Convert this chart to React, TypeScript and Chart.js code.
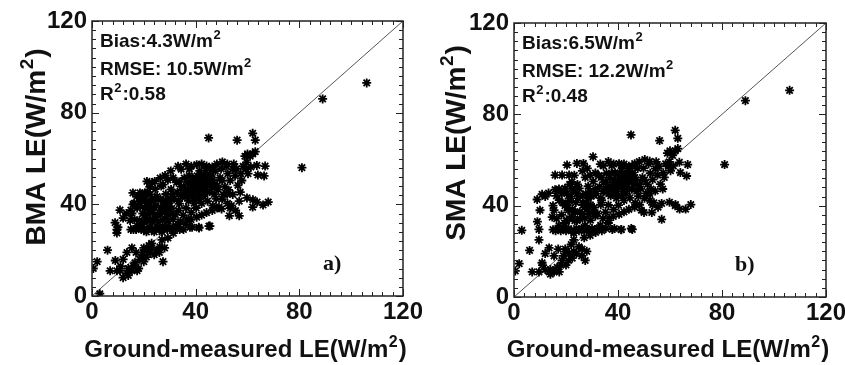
import React, { useEffect, useRef } from "react";
import { Chart, registerables } from "chart.js";

Chart.register(...registerables);

// Ground-measured LE (x), shared by both panels
const groundLE: number[] = [
  106, 89, 81, 45, 56, 62, 63, 59, 60, 61,
  62, 63, 63.6, 66.8, 64, 66.4, 56.8, 59.8, 62.1, 63.7,
  66, 68, 62, 56.8, 53, 45.5, 41.3, 37.8, 49, 50,
  0.5, 2, 3, 6, 7, 9.6, 10.8, 9, 12, 13.5,
  15.4, 12, 13.5, 15.4, 17.4, 16.6, 18.5, 19.7, 21.2, 22.4,
  25, 26.2, 27, 27.4, 29.3, 8.9, 9.6, 9.6, 10.8, 15,
  15.8, 15.4, 14.7, 15.8, 18.5, 20.4, 21.2, 11, 14, 16,
  18, 19, 20, 21, 22, 23, 24, 14, 17, 20,
  23, 26, 28, 15, 16, 17, 18, 19, 20, 21,
  22, 23, 24, 25, 26, 27, 28, 29, 30, 31,
  32.4, 33.8, 35.3, 38.6, 41.2, 45.1, 18.3, 19.6, 20.8, 21.4,
  22.3, 21.7, 23.5, 22.9, 24.2, 23.8, 25.4, 24.7, 25.1, 26.3,
  26.7, 27.2, 27.6, 28.3, 27.9, 28.5, 29.4, 28.8, 29.2, 30.3,
  29.7, 30.5, 31.3, 30.8, 32.2, 31.7, 32.6, 33.4, 32.9, 34.2,
  33.7, 34.5, 35.2, 34.8, 35.6, 36.3, 35.8, 36.6, 37.2, 36.9,
  37.6, 38.3, 37.9, 38.7, 39.4, 38.9, 40.2, 39.7, 40.5, 41.3,
  40.8, 41.6, 42.3, 41.9, 42.6, 42.2, 43.4, 42.8, 43.1, 44.3,
  43.8, 44.6, 45.3, 44.9, 45.6, 46.3, 45.8, 46.6, 47.2, 46.8,
  47.6, 48.3, 47.9, 49.4, 48.7, 50.2, 49.8, 51.3, 50.7, 52.4,
  51.8, 53.3, 52.7, 54.4, 53.8, 55.2, 54.7, 56.3, 55.8, 57.4,
  58.3, 57.8, 59.4, 60.2, 59.7, 61.3, 19.6, 21.4, 22.3, 23.2,
  24.4, 26.3, 27.4, 28.2, 29.3, 30.4, 31.3, 33.2, 34.4, 36.3,
  38.3, 40.4, 42.3, 44.2, 46.4, 48.2, 50.3, 52.2, 16.3, 17.4,
  17.3, 18.4, 19.2, 18.7, 20.3, 21.2, 22.4, 20.2, 19.4, 17.3,
  16.4, 36.3, 38.2, 40.4, 42.3, 44.2, 46.4, 48.3, 50.2, 52.3,
  53.3, 55.4, 52.2, 54.3, 57.2, 24.2, 26.7, 13.3, 12, 10,
  31.4, 33.3, 37.3, 39.2, 40.3, 41.4, 43.3, 44.4, 45.3, 39.4,
  36.4, 34.3, 33.4, 31.2, 29.4, 27.3, 26.4, 24.3, 23.4, 25.3,
  27.3, 22.4, 21.3, 20.4, 38.5, 39.5, 40.6, 41.5, 42.5, 43.6,
  44.5, 45.5, 46.5, 47.5, 36.5, 37.5, 39.2, 41.8, 43.9, 33.6,
  35.4, 30.6, 28.6, 26.5,
];

// BMA LE (y, panel a)
const bmaLE: number[] = [
  93, 86, 56, 69, 68, 71, 68, 61, 62, 61,
  62, 63, 57, 56.7, 52.8, 52.4, 41.4, 42.8, 42, 41,
  39.7, 41, 38.8, 35, 35, 30.5, 29.7, 30, 38.8, 38,
  12, 15, 1, 20, 11, 11, 11, 15.5, 16, 19,
  21, 8, 10, 11, 11, 14.5, 16, 19, 20, 19,
  20, 21.5, 24.5, 15, 25.3, 32, 29, 27.5, 37.5, 37.5,
  40, 36, 33, 45, 45, 45, 50, 13, 12, 13,
  12, 17, 21, 17, 22, 21, 18, 9, 19, 15,
  23, 19, 21, 29, 29, 29, 30, 29, 29, 28,
  30, 29, 28, 30, 29, 28, 30, 29, 30, 29,
  30, 29, 29, 30, 30, 30.5, 33, 36, 35, 38,
  33.5, 40.2, 36.4, 41.6, 34.3, 38.7, 32.2, 39.5, 43.4, 35.6,
  37.4, 33.2, 41.3, 36.6, 39.2, 44.5, 32.7, 34.5, 42.6, 35.8,
  40.5, 46.5, 33.4, 38.3, 35.5, 42.4, 49.6, 37.3, 45.2, 32.5,
  40.3, 47.6, 35.3, 43.4, 51.5, 38.4, 46.3, 33.3, 41.5, 49.5,
  55.5, 36.4, 44.3, 48.4, 40.5, 51.6, 38.4, 45.3, 50.5, 42.3,
  47.3, 54.6, 40.4, 44.5, 49.3, 52.4, 46.4, 50.3, 43.6, 48.4,
  52.6, 41.4, 45.5, 50.3, 55.6, 47.4, 52.3, 39.4, 44.3, 49.6,
  54.5, 48.3, 42.4, 51.6, 46.4, 50.3, 55.4, 47.6, 44.3, 53.4,
  56.6, 50.4, 46.3, 55.3, 39.5, 52.4, 57.6, 48.3, 55.5, 53.4,
  56.6, 50.4, 55.3, 53.4, 58.3, 56.3, 43.6, 45.4, 47.6, 49.5,
  46.6, 51.5, 48.6, 52.6, 50.6, 54.6, 51.6, 56.6, 55.3, 57.6,
  56.6, 57.3, 57.6, 56.7, 56.3, 57.6, 58.5, 57.6, 40.4, 38.4,
  43.4, 41.3, 44.4, 39.4, 42.3, 40.6, 44.3, 32.4, 31.3, 30.6,
  33.4, 31.4, 33.3, 34.4, 35.3, 36.4, 37.3, 38.4, 42.3, 40.4,
  38.4, 37.3, 44.4, 44.3, 45.3, 50, 48, 36, 34, 30,
  27.4, 31.3, 46.4, 47.3, 48.4, 50.4, 48.3, 45.4, 48.3, 44.4,
  43.4, 44.3, 41.4, 44.4, 38.3, 37.4, 42.3, 42.4, 32.3, 35.4,
  30.4, 36.3, 33.4, 38.3, 49.2, 46.2, 52.4, 45.6, 47.8, 51.6,
  49.8, 52.8, 50.6, 47.8, 44.8, 52.6, 42.6, 45.2, 54.8, 49.8,
  47.4, 42.2, 40.8, 38.6,
];

// SMA LE (y, panel b)
const smaLE: number[] = [
  90.5, 86, 58, 71, 68.5, 73, 69.5, 63, 64, 62,
  64, 65, 59, 58, 54.5, 53, 41, 41.5, 40.5, 38.5,
  38.5, 40.5, 40, 34, 37, 29.6, 29.6, 29.6, 38, 37,
  11.4, 14.6, 29.2, 20.4, 11, 11, 15, 33, 19, 21.5,
  18, 12, 11, 11, 11, 13, 16, 21, 19, 17,
  22, 21, 26, 16, 27, 42.7, 29.6, 25, 45, 40,
  47, 38, 35, 53.4, 53.4, 57.8, 53.4, 14, 12, 12,
  14, 18, 20, 16, 23, 20, 19, 10, 21, 14,
  25, 18, 20, 29.5, 29, 30, 29, 30, 29, 30,
  29, 28, 30, 29, 30, 29, 30, 29, 30, 29,
  30, 29, 30, 30, 29.5, 30, 36, 40, 38, 42,
  35.2, 44.1, 37.3, 46.6, 33.5, 41.4, 34.2, 43.3, 47.6, 36.4,
  40.3, 34.5, 45.2, 38.4, 41.2, 48.5, 33.6, 36.3, 46.2, 37.5,
  44.3, 50.6, 35.4, 39.2, 36.5, 45.3, 53.2, 40.4, 48.3, 34.4,
  42.4, 50.3, 37.2, 46.4, 54.2, 40.3, 48.4, 34.5, 44.3, 52.2,
  57.6, 38.3, 46.4, 50.3, 43.3, 54.4, 40.2, 48.3, 52.4, 44.4,
  49.3, 56.4, 42.3, 47.2, 51.4, 53.3, 49.4, 52.2, 45.3, 50.4,
  54.3, 43.4, 47.3, 51.4, 57.2, 49.3, 53.4, 41.2, 46.3, 51.3,
  56.3, 49.4, 44.2, 52.3, 47.4, 51.2, 56.4, 49.3, 45.4, 54.2,
  58.3, 51.4, 47.3, 56.2, 41.3, 53.4, 59.2, 49.4, 57.3, 54.4,
  58.3, 52.4, 57.3, 55.3, 59.2, 57.4, 47.6, 49.3, 50.4, 53.3,
  49.3, 55.2, 52.4, 56.3, 53.3, 61.4, 54.3, 58.2, 57.4, 59.3,
  58.3, 58.4, 58.2, 57.3, 58.4, 59.3, 60.2, 59.4, 44.3, 42.4,
  47.3, 45.4, 46.2, 41.3, 45.4, 43.2, 47.4, 33.3, 32.4, 31.2,
  34.3, 32.4, 35.3, 36.2, 37.3, 38.4, 39.3, 40.4, 43.2, 42.3,
  40.4, 39.3, 45.3, 46.4, 47.3, 58.5, 58.5, 45.5, 44, 38,
  28.3, 31.4, 48.3, 49.4, 50.3, 52.3, 50.4, 47.3, 50.2, 46.3,
  45.3, 46.4, 43.3, 47.3, 40.4, 39.3, 44.4, 45.3, 33.4, 37.3,
  31.3, 38.4, 34.3, 40.3, 51.3, 48.4, 54.3, 48.2, 50.2, 53.6,
  51.4, 54.4, 52.3, 49.3, 47.3, 54.3, 45.2, 48.3, 56.2, 52.4,
  50.3, 44.6, 43.2, 41.3,
];

const axisMin = 0;
const axisMax = 120;
const majorStep = 40;
const minorStep = 4;

const xTitle = "Ground-measured LE(W/m²)";
const bmaTitle = "BMA LE(W/m²)";
const smaTitle = "SMA LE(W/m²)";
const bmaStats = ["Bias:4.3W/m²", "RMSE: 10.5W/m²", "R²:0.58"];
const smaStats = ["Bias:6.5W/m²", "RMSE: 12.2W/m²", "R²:0.48"];

const FONT = '"Liberation Sans", Arial, Helvetica, sans-serif';
const H = 365;

// measure/draw a string where "²" is rendered as a raised smaller "2"
function supWidth(ctx: CanvasRenderingContext2D, text: string, size: number) {
  const parts = text.split("²");
  let w = 0;
  parts.forEach((part, i) => {
    ctx.font = `bold ${size}px ${FONT}`;
    w += ctx.measureText(part).width;
    if (i < parts.length - 1) {
      ctx.font = `bold ${Math.round(size * 0.68)}px ${FONT}`;
      w += ctx.measureText("2").width + 1.5;
    }
  });
  return w;
}

function drawWithSup(ctx: CanvasRenderingContext2D, text: string, x: number, y: number, size: number) {
  const parts = text.split("²");
  let cx = x;
  parts.forEach((part, i) => {
    ctx.font = `bold ${size}px ${FONT}`;
    ctx.fillText(part, cx, y);
    cx += ctx.measureText(part).width;
    if (i < parts.length - 1) {
      ctx.font = `bold ${Math.round(size * 0.68)}px ${FONT}`;
      ctx.fillText("2", cx + 0.5, y - size * 0.42);
      cx += ctx.measureText("2").width + 1.5;
    }
  });
}

type FrameCfg = {
  stats: string[];
  tag: string;
  tagDx: number;
  yTitle: string;
  yTitleX: number;
  yTitleCY: number;
};

function framePlugin(cfg: FrameCfg) {
  return {
    id: "frame",
    afterDatasetsDraw(chart: any) {
      const { ctx, chartArea: a, scales } = chart;
      ctx.save();
      ctx.strokeStyle = "#222";
      ctx.lineWidth = 1.5;
      ctx.strokeRect(a.left, a.top, a.right - a.left, a.bottom - a.top);
      ctx.lineWidth = 1;
      ctx.beginPath();
      for (let v = axisMin; v <= axisMax; v += minorStep) {
        const len = v % majorStep === 0 ? 7 : 4;
        const px = Math.round(scales.x.getPixelForValue(v)) + 0.5;
        const py = Math.round(scales.y.getPixelForValue(v)) + 0.5;
        ctx.moveTo(px, a.bottom);
        ctx.lineTo(px, a.bottom - len);
        ctx.moveTo(px, a.top);
        ctx.lineTo(px, a.top + len);
        ctx.moveTo(a.left, py);
        ctx.lineTo(a.left + len, py);
        ctx.moveTo(a.right, py);
        ctx.lineTo(a.right - len, py);
      }
      ctx.stroke();
      ctx.fillStyle = "#111";
      ctx.textBaseline = "alphabetic";
      ctx.textAlign = "left";
      const baselines = [26, 54, 79];
      cfg.stats.forEach((s, i) => drawWithSup(ctx, s, a.left + 8, a.top + baselines[i], 19));
      ctx.font = 'bold 22px "Liberation Serif", "Times New Roman", serif';
      ctx.fillText(cfg.tag, a.left + cfg.tagDx, a.bottom - 26);

      // x axis title
      const xs = 24;
      const xw = supWidth(ctx, xTitle, xs);
      drawWithSup(ctx, xTitle, (a.left + a.right) / 2 - 2 - xw / 2, 357, xs);

      // y axis title (rotated)
      const ys = 28;
      const yw = supWidth(ctx, cfg.yTitle, ys);
      ctx.save();
      ctx.translate(cfg.yTitleX, cfg.yTitleCY);
      ctx.rotate(-Math.PI / 2);
      drawWithSup(ctx, cfg.yTitle, -yw / 2, 0, ys);
      ctx.restore();
      ctx.restore();
    },
  };
}

type PanelProps = {
  yValues: number[];
  yTitle: string;
  stats: string[];
  tag: string;
  tagDx: number;
  left: number;
  width: number;
  plotTop: number;
  plotBottom: number;
  rightPad: number;
  yAxisWidth: number;
  yTitleX: number;
  yTitleCY: number;
};

function Panel(p: PanelProps) {
  const ref = useRef<HTMLCanvasElement>(null);
  useEffect(() => {
    const canvas = ref.current;
    if (!canvas) return;
    const points = groundLE.map((x, i) => ({ x, y: p.yValues[i] }));
    const tickFont = { family: FONT, size: 24, weight: "bold" as const };
    const chart = new Chart(canvas, {
      type: "scatter",
      data: {
        datasets: [
          {
            data: points,
            pointStyle: "star",
            radius: 4.5,
            borderColor: "#000",
            backgroundColor: "#000",
            borderWidth: 1.8,
          },
          {
            data: [
              { x: axisMin, y: axisMin },
              { x: axisMax, y: axisMax },
            ],
            showLine: true,
            pointRadius: 0,
            borderColor: "#555",
            borderWidth: 1,
          },
        ],
      },
      options: {
        responsive: false,
        animation: false,
        devicePixelRatio: 1,
        layout: { padding: { left: 0, top: p.plotTop, right: p.rightPad, bottom: 0 } },
        plugins: { legend: { display: false }, tooltip: { enabled: false } },
        scales: {
          x: {
            type: "linear",
            min: axisMin,
            max: axisMax,
            ticks: { stepSize: majorStep, padding: 2, color: "#111", font: tickFont },
            grid: { display: false, drawTicks: false },
            border: { display: false },
            afterFit: (s: any) => {
              s.height = H - p.plotBottom;
              s.paddingLeft = 0;
              s.paddingRight = 0;
            },
          },
          y: {
            type: "linear",
            min: axisMin,
            max: axisMax,
            ticks: { stepSize: majorStep, padding: 5, color: "#111", font: tickFont },
            grid: { display: false, drawTicks: false },
            border: { display: false },
            afterFit: (s: any) => {
              s.width = p.yAxisWidth;
              s.paddingTop = 0;
              s.paddingBottom = 0;
            },
          },
        },
      },
      plugins: [
        framePlugin({
          stats: p.stats,
          tag: p.tag,
          tagDx: p.tagDx,
          yTitle: p.yTitle,
          yTitleX: p.yTitleX,
          yTitleCY: p.yTitleCY,
        }),
      ],
    } as any);
    return () => chart.destroy();
  }, []);
  return (
    <canvas
      ref={ref}
      width={p.width}
      height={H}
      style={{ position: "absolute", left: p.left, top: 0, width: p.width, height: H }}
    />
  );
}

export default function App() {
  return (
    <div style={{ position: "absolute", left: 0, top: 0, width: 845, height: H, background: "#fff" }}>
      <Panel
        yValues={bmaLE}
        yTitle={bmaTitle}
        stats={bmaStats}
        tag="a)"
        tagDx={231}
        left={0}
        width={422}
        plotTop={21}
        plotBottom={296}
        rightPad={19}
        yAxisWidth={92}
        yTitleX={45}
        yTitleCY={147}
      />
      <Panel
        yValues={smaLE}
        yTitle={smaTitle}
        stats={smaStats}
        tag="b)"
        tagDx={221}
        left={422}
        width={423}
        plotTop={23}
        plotBottom={297}
        rightPad={19}
        yAxisWidth={92}
        yTitleX={43}
        yTitleCY={143}
      />
    </div>
  );
}
